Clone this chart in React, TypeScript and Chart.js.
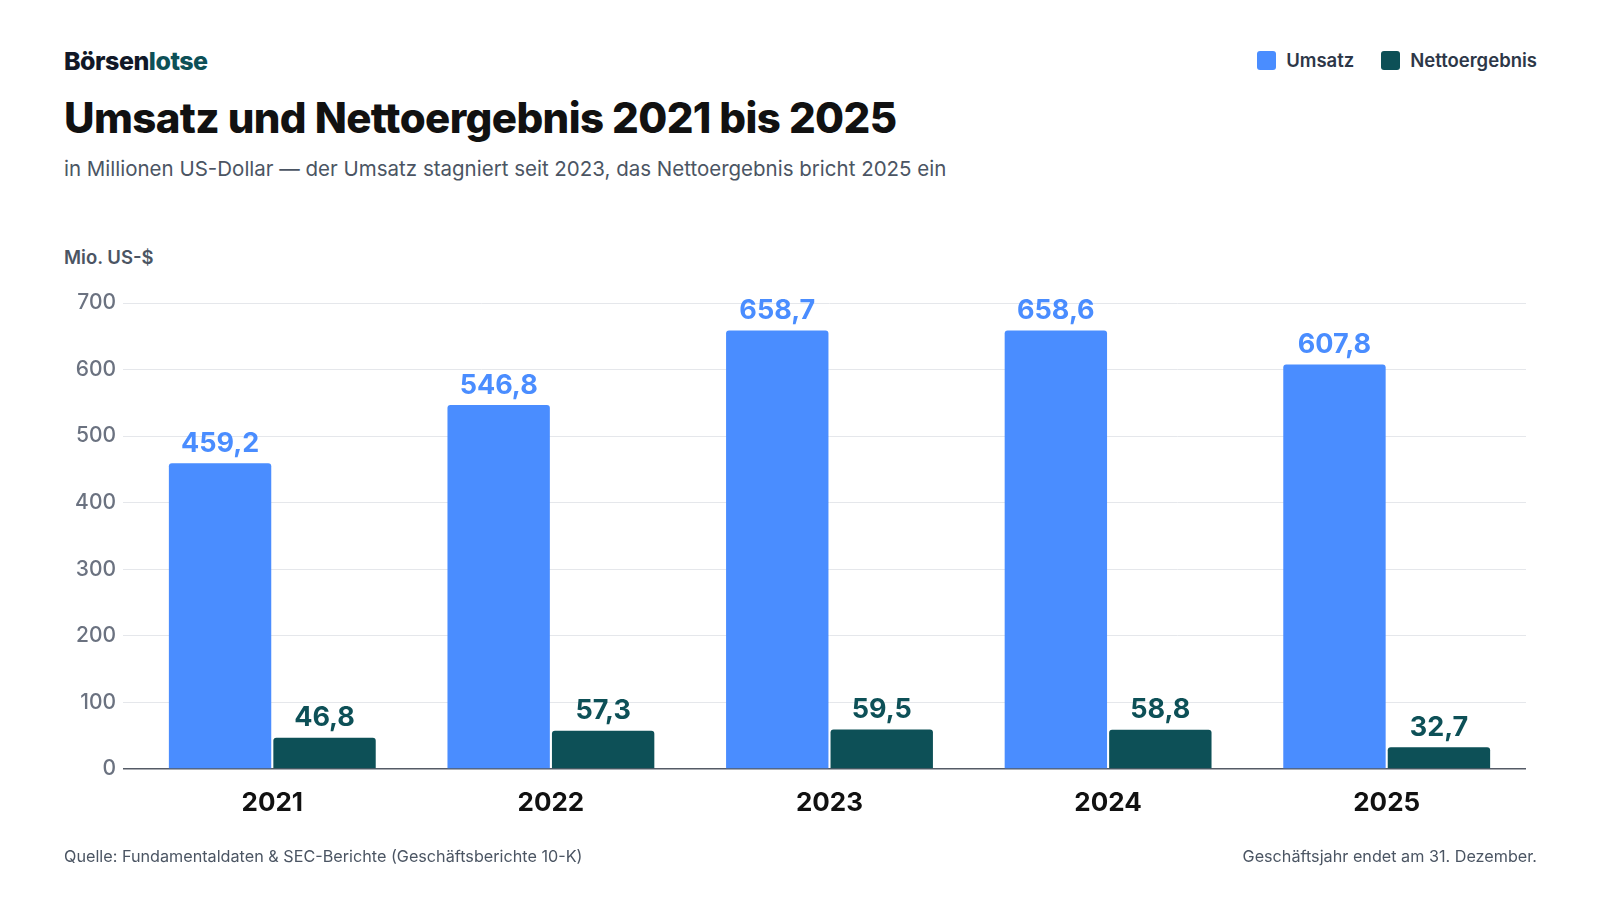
import React, { useEffect, useRef } from "react";
import { Chart, registerables } from "chart.js";
Chart.register(...registerables);

const years = ["2021", "2022", "2023", "2024", "2025"];
const umsatz = [459.2, 546.8, 658.7, 658.6, 607.8];
const netto = [46.8, 57.3, 59.5, 58.8, 32.7];
const BLUE = "#4a8dff";
const TEAL = "#0d5057";
const FONT = "Inter, 'Noto Sans', sans-serif";

const fmt = (v: number) => v.toFixed(1).replace(".", ",");

const labelPlugin = {
  id: "vlabels",
  afterDatasetsDraw(chart: any) {
    const ctx = chart.ctx;
    ctx.save();
    ctx.font = `700 27px ${FONT}`;
    ctx.textAlign = "center";
    ctx.textBaseline = "bottom";
    chart.data.datasets.forEach((ds: any, i: number) => {
      chart.getDatasetMeta(i).data.forEach((bar: any, j: number) => {
        ctx.fillStyle = ds.backgroundColor;
        ctx.fillText(fmt(ds.data[j]), bar.x, bar.y - 6);
      });
    });
    ctx.restore();
  },
};

export default function App() {
  const ref = useRef<HTMLCanvasElement>(null);
  useEffect(() => {
    const gc = (c: any) => (c.tick && c.tick.value === 0 ? "#555b66" : "#e5e7eb");
    const c = new Chart(ref.current!, {
      type: "bar",
      data: {
        labels: years,
        datasets: [
          { label: "Umsatz", data: umsatz, backgroundColor: BLUE, borderRadius: { topLeft: 3, topRight: 3 }, borderSkipped: "bottom", categoryPercentage: 0.75, barPercentage: 0.98 },
          { label: "Nettoergebnis", data: netto, backgroundColor: TEAL, borderRadius: { topLeft: 3, topRight: 3 }, borderSkipped: "bottom", categoryPercentage: 0.75, barPercentage: 0.98 },
        ],
      },
      options: {
        animation: false,
        responsive: false,
        layout: { padding: { top: 20, right: 18, left: 0, bottom: 0 } },
        plugins: { legend: { display: false }, tooltip: { enabled: false } },
        scales: {
          x: {
            grid: { display: false },
            border: { display: false },
            ticks: { color: "#111", font: { family: FONT, size: 26, weight: "bold" }, padding: 11 },
            afterFit: (s: any) => { s.height = 89; },
          },
          y: {
            min: 0, max: 700,
            ticks: { stepSize: 100, color: "#6b7280", font: { family: FONT, size: 21, weight: "500" }, padding: 7 },
            grid: { color: gc, tickColor: gc, lineWidth: (c: any) => (c.tick && c.tick.value === 0 ? 1.5 : 1), drawTicks: true, tickLength: 10 },
            border: { display: false },
            afterFit: (s: any) => { s.width = 69; },
          },
        },
      },
      plugins: [labelPlugin],
    } as any);
    return () => c.destroy();
  }, []);
  const leg = (col: string, t: string) => (
    <span style={{ display: "inline-flex", alignItems: "center", marginLeft: 27 }}>
      <span style={{ width: 19, height: 19, borderRadius: 3, background: col, marginRight: 10 }} />
      {t}
    </span>
  );
  return (
    <div style={{ position: "fixed", inset: 0, width: 1600, height: 900, background: "#fff", fontFamily: FONT }}>
      <div style={{ position: "absolute", left: 64, top: 46, fontSize: 25, fontWeight: 800, letterSpacing: -0.5, color: "#111827" }}>
        Börsen<span style={{ color: TEAL }}>lotse</span>
      </div>
      <div style={{ position: "absolute", right: 63, top: 49, fontSize: 18.5, fontWeight: 600, color: "#2d3748" }}>
        {leg(BLUE, "Umsatz")}{leg(TEAL, "Nettoergebnis")}
      </div>
      <div style={{ position: "absolute", left: 64, top: 92, fontSize: 42, fontWeight: 800, letterSpacing: -0.6, color: "#111" }}>
        Umsatz und Nettoergebnis 2021 bis 2025
      </div>
      <div style={{ position: "absolute", left: 64, top: 156, fontSize: 20.5, color: "#4b5563" }}>
        in Millionen US-Dollar — der Umsatz stagniert seit 2023, das Nettoergebnis bricht 2025 ein
      </div>
      <div style={{ position: "absolute", left: 64, top: 246, fontSize: 18.5, fontWeight: 600, color: "#4b5563" }}>Mio. US-$</div>
      <canvas ref={ref} width={1480} height={575} style={{ position: "absolute", left: 64, top: 283 }} />
      <div style={{ position: "absolute", left: 64, top: 846, fontSize: 16.2, color: "#4b5563" }}>
        Quelle: Fundamentaldaten &amp; SEC-Berichte (Geschäftsberichte 10-K)
      </div>
      <div style={{ position: "absolute", right: 63, top: 846, fontSize: 16.2, color: "#4b5563" }}>
        Geschäftsjahr endet am 31. Dezember.
      </div>
    </div>
  );
}
